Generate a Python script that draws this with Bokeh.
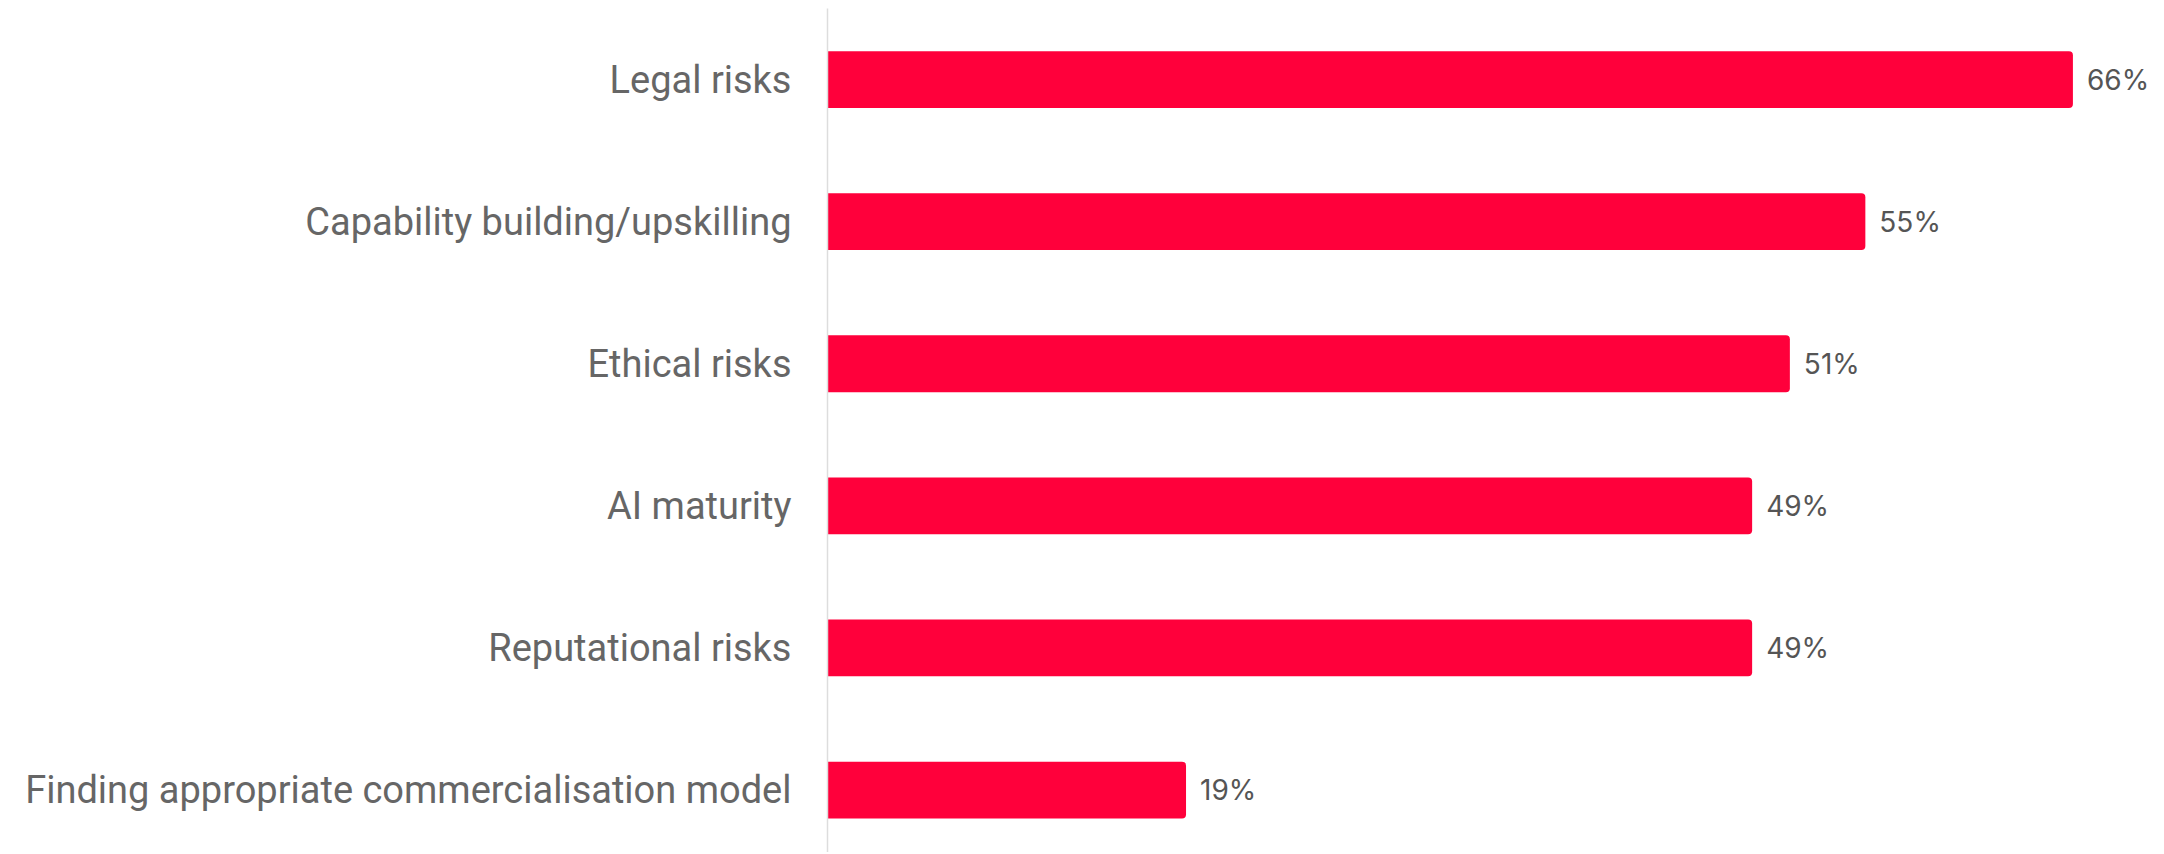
from bokeh.plotting import figure
from bokeh.models import Range1d, FixedTicker, ColumnDataSource
from bokeh.core.properties import value
from bokeh.embed import file_html
from bokeh.resources import INLINE

categories = [
    "Legal risks",
    "Capability building/upskilling",
    "Ethical risks",
    "AI maturity",
    "Reputational risks",
    "Finding appropriate commercialisation model",
]
values = [66, 55, 51, 49, 49, 19]
value_labels = ["66%", "55%", "51%", "49%", "49%", "19%"]

positions = list(range(1, len(categories) + 1))

LEFT = 827
TOP = 8
FRAME_W = 1329
W, H = LEFT + FRAME_W + 2, 852
PX_PER_UNIT_X = 18.87
PX_PER_ROW = 142.1

src = ColumnDataSource(dict(y=positions, v=values, lab=value_labels))

p = figure(
    width=W, height=H,
    output_backend="svg", toolbar_location=None,
    x_range=Range1d(0, (W - LEFT) / PX_PER_UNIT_X),
    y_range=Range1d(start=0.5 + (H - TOP) / PX_PER_ROW, end=0.5),
    x_axis_location=None,
    min_border_left=LEFT, min_border_right=0,
    min_border_top=TOP, min_border_bottom=0,
)
p.outline_line_color = None
p.grid.visible = False
p.background_fill_color = "white"
p.border_fill_color = "white"

p.hbar(y="y", left=0, right="v", height=0.40, source=src,
       fill_color="#ff003b", line_color=None,
       border_radius=(0, 4, 4, 0))

p.text(x="v", y="y", text="lab", source=src, x_offset=14,
       text_align="left", text_baseline="middle",
       text_font=value("Inter"), text_font_size="28px", text_color="#555555")

ax = p.yaxis[0]
ax.ticker = FixedTicker(ticks=positions)
ax.major_label_overrides = {pos: cat for pos, cat in zip(positions, categories)}
ax.major_tick_line_color = None
ax.minor_tick_line_color = None
ax.major_tick_out = 0
ax.major_tick_in = 0
ax.major_label_standoff = 36
ax.axis_line_color = "#dddddd"
ax.axis_line_width = 1.5
ax.major_label_text_font = "Roboto"
ax.major_label_text_font_size = "38px"
ax.major_label_text_color = "#666666"

open("out.html", "w").write(file_html(p, INLINE))
